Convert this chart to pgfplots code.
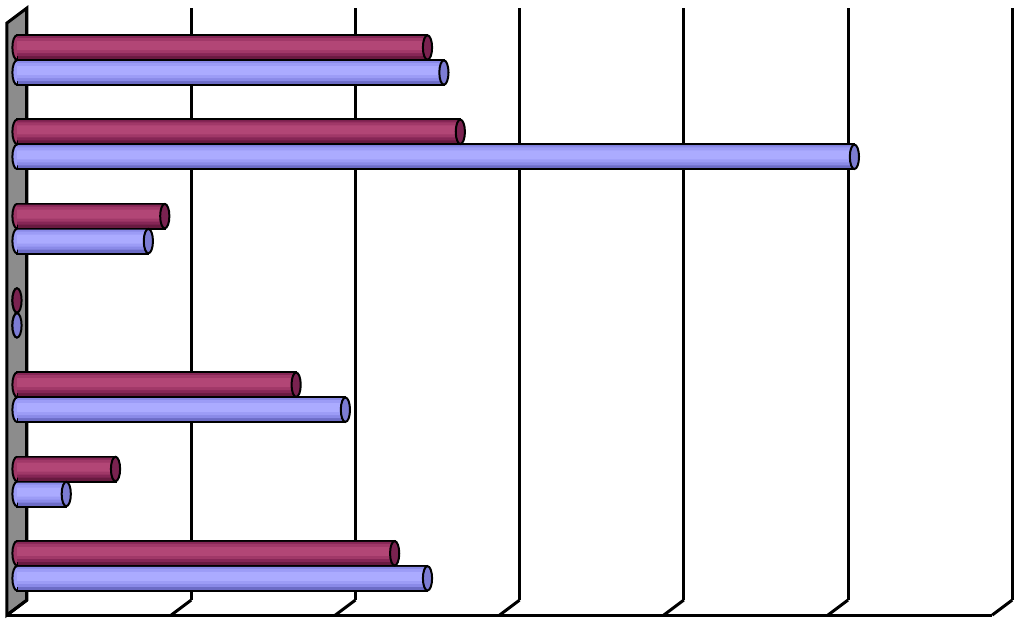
\documentclass[border=0pt]{standalone}
\usepackage{pgfplots}
\usepackage{pgfplotstable}
\pgfplotsset{compat=1.18}

\definecolor{plum0}{HTML}{681A40}
\definecolor{plum1}{HTML}{862656}
\definecolor{plum2}{HTML}{A03868}
\definecolor{plum3}{HTML}{B24676}
\definecolor{plumcap}{HTML}{7A2250}
\definecolor{lav0}{HTML}{6C6CC6}
\definecolor{lav1}{HTML}{8A8AE8}
\definecolor{lav2}{HTML}{9C9CF6}
\definecolor{lav3}{HTML}{ABABFF}
\definecolor{lavcap}{HTML}{7C7CD4}
\definecolor{wallgray}{HTML}{8C8C8C}

% categories from top (6) to bottom (0)
\pgfplotstableread{
cat  m    b
6    2.5  2.6
5    2.7  5.1
4    0.9  0.8
3    0.0  0.0
2    1.7  2.0
1    0.6  0.3
0    2.3  2.5
}\rates

% cylinder end caps, offset to the bar centres
\pgfdeclareplotmark{endup}{%
  \pgfpathellipse{\pgfpoint{0pt}{6.25pt}}{\pgfpoint{2.3pt}{0pt}}{\pgfpoint{0pt}{6.1pt}}%
  \pgfusepathqfillstroke}
\pgfdeclareplotmark{enddn}{%
  \pgfpathellipse{\pgfpoint{0pt}{-6.25pt}}{\pgfpoint{2.3pt}{0pt}}{\pgfpoint{0pt}{6.1pt}}%
  \pgfusepathqfillstroke}
\pgfdeclareplotmark{startup}{%
  \pgfpathmoveto{\pgfpoint{0pt}{12.35pt}}%
  \pgfpatharc{90}{270}{2.3pt and 6.1pt}%
  \pgfusepathqfillstroke}
\pgfdeclareplotmark{startdn}{%
  \pgfpathmoveto{\pgfpoint{0pt}{-0.15pt}}%
  \pgfpatharc{90}{270}{2.3pt and 6.1pt}%
  \pgfusepathqfillstroke}

% one flat band of a bar: width, shift, colour
\pgfplotsset{band/.style n args={3}{xbar, bar width=#1, bar shift=#2, fill=#3, draw=none}}

\begin{document}
\begin{tikzpicture}
\begin{axis}[
    scale only axis,
    width=511.5pt, height=311.5pt,
    xmin=-0.1035, xmax=6.1267,
    ymin=-0.678, ymax=6.712,
    hide axis,
    clip=false,
]
\path (rel axis cs:0,0) rectangle (rel axis cs:1,1);

% side wall
\filldraw[fill=wallgray, line width=1.5pt, line join=miter]
    ([shift={(-5pt,-3.75pt)}]axis cs:0,-0.495) --
    ([shift={(5pt,3.75pt)}]axis cs:0,-0.495) --
    ([shift={(5pt,3.75pt)}]axis cs:0,6.528) --
    ([shift={(-5pt,-3.75pt)}]axis cs:0,6.528) -- cycle;

% back grid lines and floor
\pgfplotsinvokeforeach{0,...,6}{
  \draw[line width=1.5pt]
    ([shift={(5pt,3.75pt)}]axis cs:#1,-0.495) --
    ([shift={(5pt,3.75pt)}]axis cs:#1,6.528);
  \draw[line width=1.5pt]
    ([shift={(-5pt,-3.75pt)}]axis cs:#1,-0.495) --
    ([shift={(5pt,3.75pt)}]axis cs:#1,-0.495);
}
\draw[line width=1.5pt]
    ([shift={(-5pt,-3.75pt)}]axis cs:0,-0.495) --
    ([shift={(-5pt,-3.75pt)}]axis cs:6,-0.495);

% rounded left ends
\addplot[only marks, mark=startup, mark options={fill=plum2, draw=black, line width=1pt}]
    table[x expr=0, y=cat] {\rates};
\addplot[only marks, mark=startdn, mark options={fill=lav2, draw=black, line width=1pt}]
    table[x expr=0, y=cat] {\rates};

% upper bars (plum), drawn as bands for a cylinder look
\addplot[xbar, bar width=12.5pt, bar shift=6.25pt, fill=plum0, draw=black, line width=1pt]
    table[x=m, y=cat] {\rates};
\addplot[band={10pt}{7pt}{plum1}]    table[x=m, y=cat] {\rates};
\addplot[band={7.5pt}{7.25pt}{plum2}] table[x=m, y=cat] {\rates};
\addplot[band={4.5pt}{7.25pt}{plum3}] table[x=m, y=cat] {\rates};

% lower bars (lavender)
\addplot[xbar, bar width=12.5pt, bar shift=-6.25pt, fill=lav0, draw=black, line width=1pt]
    table[x=b, y=cat] {\rates};
\addplot[band={10pt}{-5.5pt}{lav1}]    table[x=b, y=cat] {\rates};
\addplot[band={7.5pt}{-5.25pt}{lav2}]  table[x=b, y=cat] {\rates};
\addplot[band={4.5pt}{-5.25pt}{lav3}]  table[x=b, y=cat] {\rates};

% right end caps
\addplot[only marks, mark=endup, mark options={fill=plumcap, draw=black, line width=1pt}]
    table[x=m, y=cat] {\rates};
\addplot[only marks, mark=enddn, mark options={fill=lavcap, draw=black, line width=1pt}]
    table[x=b, y=cat] {\rates};
\end{axis}
\end{tikzpicture}
\end{document}
